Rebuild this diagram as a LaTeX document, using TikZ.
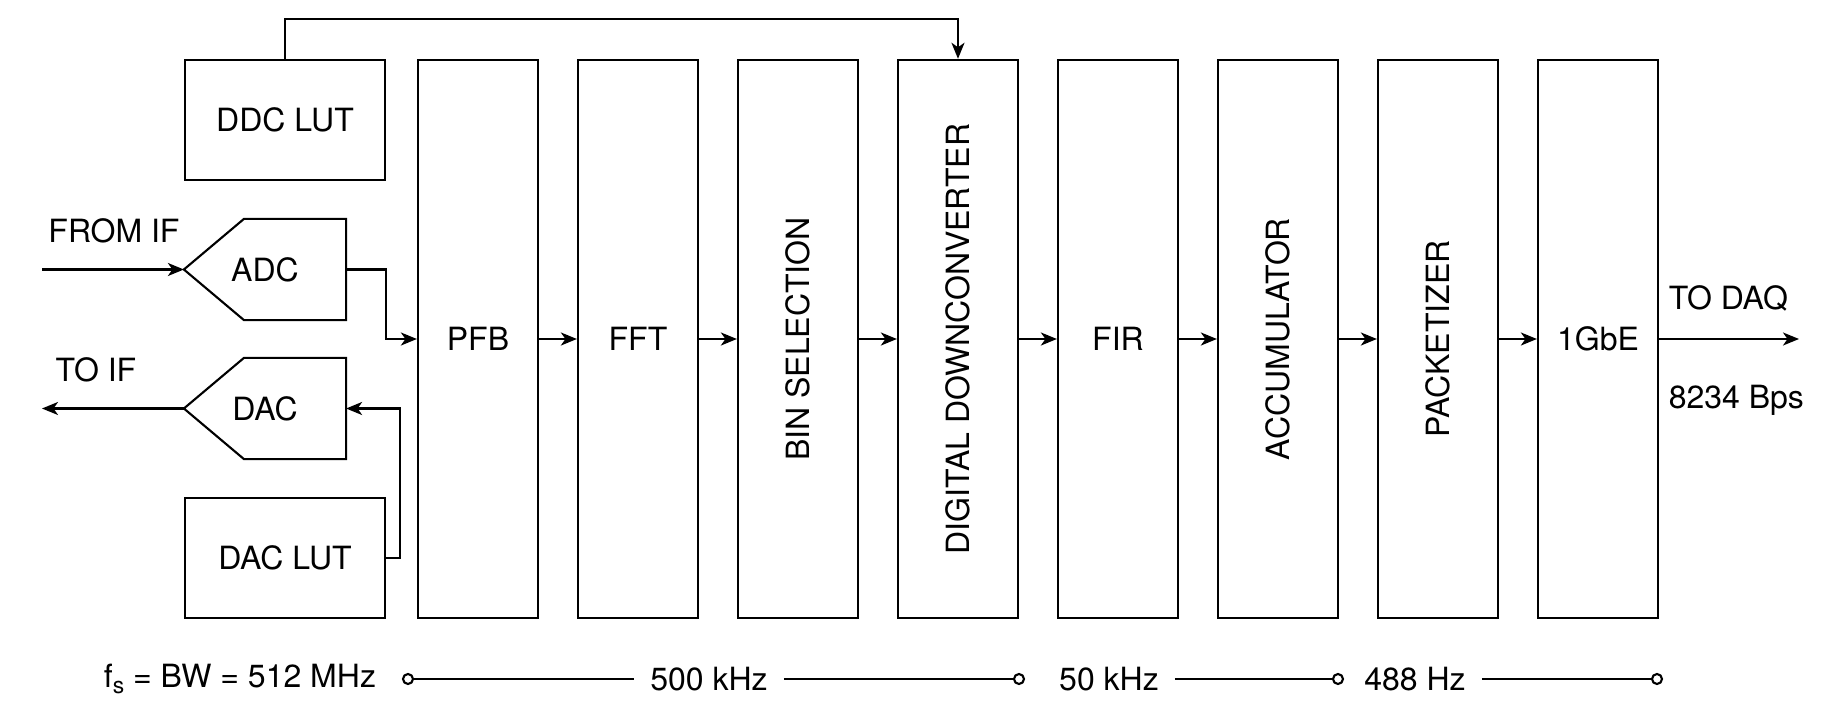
\documentclass[tikz,border=0pt]{standalone}
\usepackage{fontspec}
\setmainfont{TeX Gyre Heros}
\usetikzlibrary{arrows.meta}

\begin{document}
\begin{tikzpicture}[x=0.01cm, y=-0.01cm,
        every node/.style={font=\fontsize{9.1pt}{10pt}\selectfont},
        every path/.style={line width=0.6pt},
        block/.style={draw, minimum width=1.2cm, minimum height=5.58cm, inner sep=0pt},
        lut/.style={draw, minimum width=2cm, minimum height=1.2cm, inner sep=0pt},
        conv/.style={minimum width=1.6cm, minimum height=0.99cm, inner sep=0pt},
        dot/.style={circle, draw, fill=white, minimum size=0.1cm, inner sep=0pt},
        rate/.style={inner xsep=0.15cm, inner ysep=0pt},
        >={Stealth[length=0.16cm, width=0.13cm, inset=0.045cm]}]
        
        \useasboundingbox (0,0) rectangle (1841,706);
        
        \node[lut] (ddclut) at (285,120) {DDC LUT};
        \node[lut] (daclut) at (285,558) {DAC LUT};
        \node[conv] (adc) at (265,269.5) {ADC};
        \node[conv] (dac) at (265,408.5) {DAC};
        \draw (adc.west) -- ([xshift=0.6cm]adc.north west) -- (adc.north east) -- (adc.south east) -- ([xshift=0.6cm]adc.south west) -- cycle;
        \draw (dac.west) -- ([xshift=0.6cm]dac.north west) -- (dac.north east) -- (dac.south east) -- ([xshift=0.6cm]dac.south west) -- cycle;
        
        \node[block] (pfb) at (478,339) {PFB};
        \node[block] (fft) at (638,339) {FFT};
        \node[block] (bin) at (798,339) {\rotatebox{90}{BIN SELECTION}};
        \node[block] (ddc) at (958,339) {\rotatebox{90}{DIGITAL DOWNCONVERTER}};
        \node[block] (fir) at (1118,339) {FIR};
        \node[block] (acc) at (1278,339) {\rotatebox{90}{ACCUMULATOR}};
        \node[block] (pkt) at (1438,339) {\rotatebox{90}{PACKETIZER}};
        \node[block] (gbe) at (1598,339) {1GbE};
        
        \node (fromif) at (114,231) {FROM IF};
        \node (toif) at (96,370) {TO IF};
        \node[anchor=west] (todaq) at (1656,298) {TO DAQ};
        \node[anchor=west] (bps) at (1656,400) {8234 Bps};
        
        \coordinate (in) at (42,269.5);
        \coordinate (out) at (42,408.5);
        \coordinate (daq) at (1799,339);
        
        \draw[->] (in) -- (adc.west);
        \draw[->] (dac.west) -- (out);
        \draw[->] (adc.east) -- ++(40,0) |- (pfb.west);
        \draw[->] (daclut.east) -- ++(14,0) |- (dac.east);
        \draw[->] (ddclut.north) -- ++(0,-40) -| (ddc.north);
        \draw[->] (pfb) -- (fft);
        \draw[->] (fft) -- (bin);
        \draw[->] (bin) -- (ddc);
        \draw[->] (ddc) -- (fir);
        \draw[->] (fir) -- (acc);
        \draw[->] (acc) -- (pkt);
        \draw[->] (pkt) -- (gbe);
        \draw[->] (gbe) -- (daq);
        
        \node (fsrate) at (240,679) {f\raisebox{-0.35ex}{\fontsize{6.5pt}{7pt}\selectfont s} = BW = 512 MHz};
        \node[dot] (c1) at (408,679) {};
        \node[rate] (r500) at (709,679) {500 kHz};
        \node[dot] (c2) at (1019,679) {};
        \node[rate] (r50) at (1109,679) {50 kHz};
        \node[dot] (c3) at (1338,679) {};
        \node[rate] (r488) at (1415,679) {488 Hz};
        \node[dot] (c4) at (1657,679) {};
        
        \draw (c1) -- (r500) -- (c2);
        \draw (r50) -- (c3);
        \draw (r488) -- (c4);
        
        \end{tikzpicture}
\end{document}
